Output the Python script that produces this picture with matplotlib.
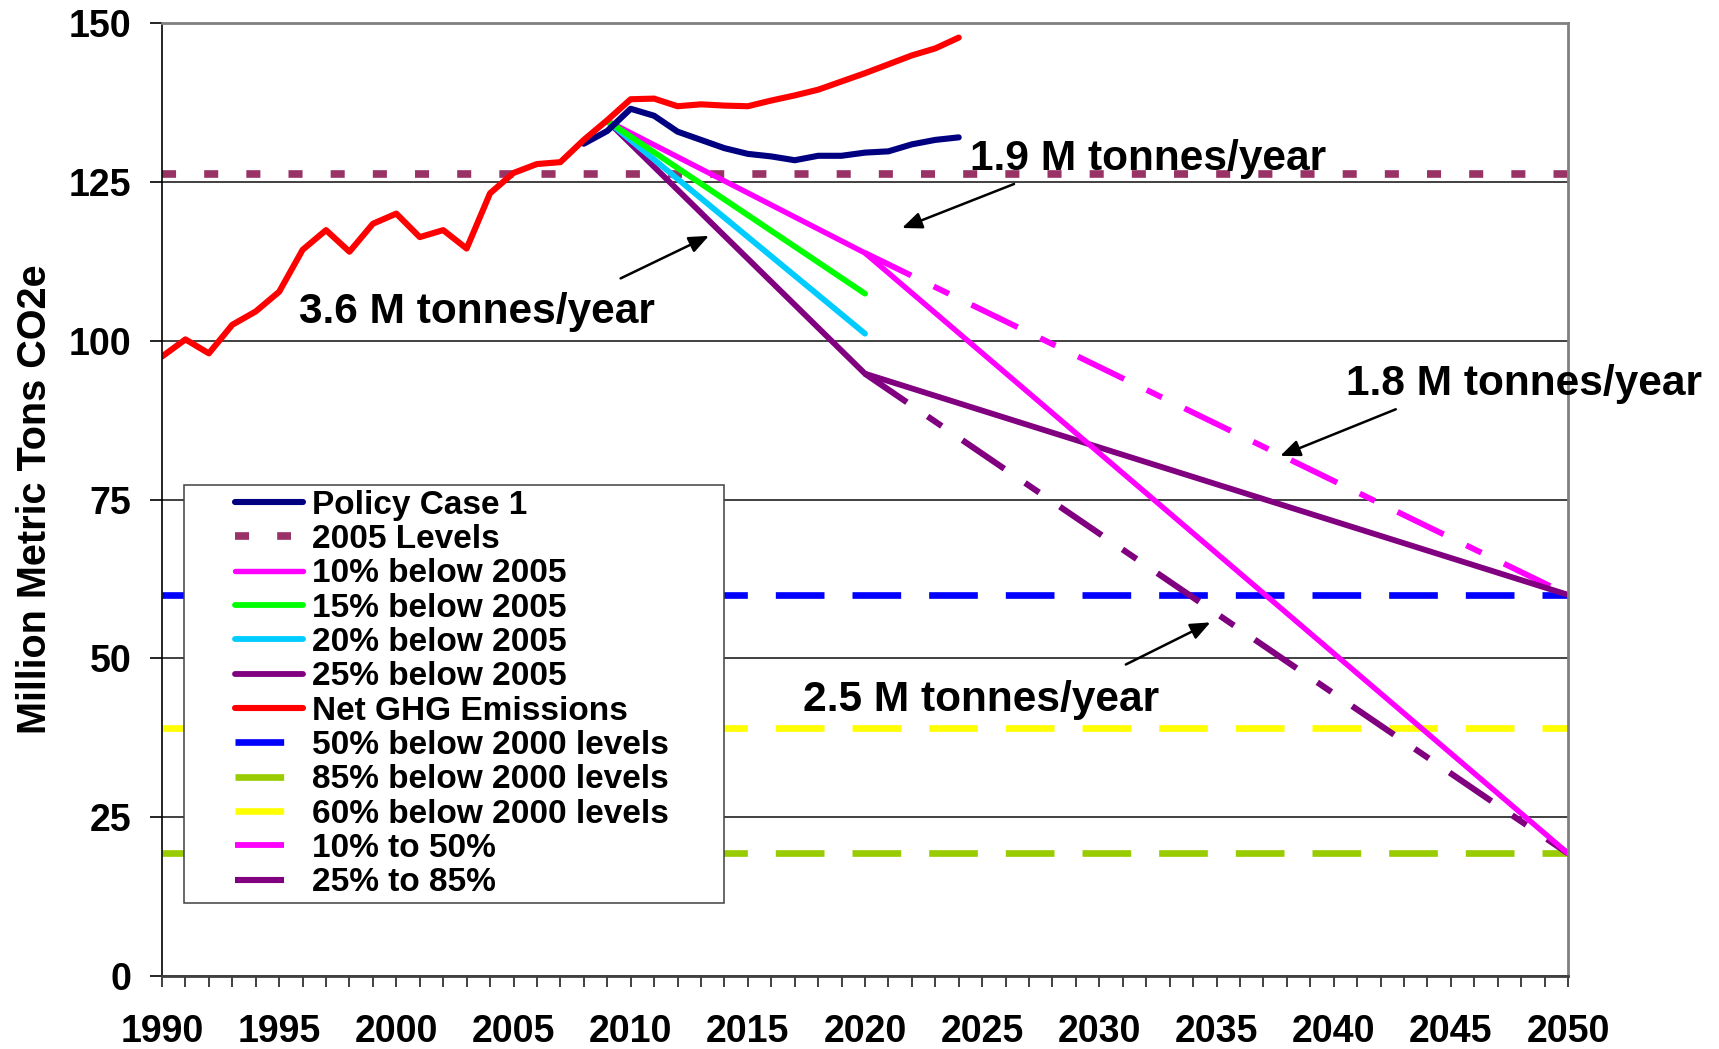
import numpy as np
import matplotlib
matplotlib.use('Agg')
import matplotlib.pyplot as plt
from matplotlib.legend_handler import HandlerLine2D
from matplotlib.ticker import MultipleLocator

plt.rcParams['font.family'] = ['Liberation Sans', 'DejaVu Sans']
plt.rcParams['font.weight'] = 'bold'

# ---------------- data ----------------
hist_years = list(range(1990, 2025))
net_ghg = [97.5, 100.2, 98.0, 102.5, 104.6, 107.7, 114.3, 117.4, 114.0, 118.4,
           120.0, 116.3, 117.4, 114.5, 123.2, 126.4, 127.8, 128.1, 131.6, 134.7,
           138.0, 138.1, 136.9, 137.2, 137.0, 136.9, 137.8, 138.6, 139.5, 140.8,
           142.1, 143.5, 144.9, 146.0, 147.7]

policy_years = list(range(2008, 2025))
policy_case_1 = [131.0, 133.0, 136.5, 135.4, 132.9, 131.6, 130.3, 129.4, 129.0,
                 128.4, 129.1, 129.1, 129.6, 129.8, 130.9, 131.6, 132.0]

target_years = [2009, 2020]
below_15 = [134.6, 107.4]
below_20 = [134.6, 101.1]

path_years = [2009, 2020, 2050]
below_10 = [134.6, 113.8, 19.3]
below_25 = [134.6, 94.8, 60.0]

ext_years = [2020, 2050]
path_10_to_50 = [113.8, 60.0]
path_25_to_85 = [94.8, 19.3]

span_years = [1990, 2050]
level_2005 = 126.3
level_50_below_2000 = 60.0
level_60_below_2000 = 39.1
level_85_below_2000 = 19.3

labels = ["Policy Case 1", "2005 Levels", "10% below 2005", "15% below 2005",
          "20% below 2005", "25% below 2005", "Net GHG Emissions",
          "50% below 2000 levels", "85% below 2000 levels",
          "60% below 2000 levels", "10% to 50%", "25% to 85%"]

annot_texts = ["1.9 M tonnes/year", "3.6 M tonnes/year",
               "1.8 M tonnes/year", "2.5 M tonnes/year"]
annot_text_pos = [(2024.46, 126.86), (1995.85, 102.73), (2040.54, 91.49), (2017.37, 41.71)]
annot_tails = [(2026.36, 124.66), (2009.57, 109.8), (2042.65, 89.2), (2031.13, 49.03)]
annot_heads = [(2021.58, 117.73), (2013.34, 116.5), (2037.72, 81.86), (2034.74, 55.66)]

x_ticks = list(range(1990, 2051, 5))
y_ticks = list(range(0, 151, 25))

# ---------------- figure ----------------
W, H = 1719, 1049
fig = plt.figure(figsize=(W / 100, H / 100), dpi=100)
ax = fig.add_axes([162 / W, 1 - 976 / H, 1406 / W, 953 / H])

dash_long = (7.3, 4.2)
h_50, = ax.plot(span_years, [level_50_below_2000] * 2, color='#0000FF', lw=4.8,
                dashes=dash_long, dash_capstyle='butt')
h_85, = ax.plot(span_years, [level_85_below_2000] * 2, color='#99CC00', lw=4.8,
                dashes=dash_long, dash_capstyle='butt')
h_60, = ax.plot(span_years, [level_60_below_2000] * 2, color='#FFFF00', lw=4.8,
                dashes=dash_long, dash_capstyle='butt')
h_2005, = ax.plot(span_years, [level_2005] * 2, color='#993366', lw=5.5,
                  dashes=(1.84, 3.68), dash_capstyle='butt')

h_25_85, = ax.plot(ext_years, path_25_to_85, color='#800080', lw=4.4,
                   dashes=(8.3, 4.1, 2.8, 4.1), dash_capstyle='butt')
h_10_50, = ax.plot(ext_years, path_10_to_50, color='#FF00FF', lw=4.2,
                   dashes=(8.8, 4.3, 2.9, 4.3), dash_capstyle='butt')

h_25, = ax.plot(path_years, below_25, color='#800080', lw=4.2, solid_capstyle='round')
h_10, = ax.plot(path_years, below_10, color='#FF00FF', lw=3.9, solid_capstyle='round')
h_20, = ax.plot(target_years, below_20, color='#00CCFF', lw=4.2, solid_capstyle='round')
h_15, = ax.plot(target_years, below_15, color='#00FF00', lw=4.2, solid_capstyle='round')
h_pc, = ax.plot(policy_years, policy_case_1, color='#000080', lw=4.4,
                solid_capstyle='round', solid_joinstyle='round')
h_net, = ax.plot(hist_years, net_ghg, color='#FF0000', lw=4.4,
                 solid_capstyle='round', solid_joinstyle='round')

ax.set_xlim(1990, 2050)
ax.set_ylim(0, 150)
ax.set_xticks(x_ticks)
ax.xaxis.set_minor_locator(MultipleLocator(1))
ax.set_yticks(y_ticks)
ax.tick_params(axis='x', which='both', length=8, width=1.2, direction='out',
               color='#202020')
ax.tick_params(axis='x', which='major', pad=19, labelsize=27)
ax.tick_params(axis='y', length=9, width=1.2, direction='out', pad=13, labelsize=27)
for lab in ax.get_xticklabels() + ax.get_yticklabels():
    lab.set_fontweight('bold')

ax.yaxis.grid(True, color='#202020', lw=1.2)
ax.set_axisbelow(True)
ax.spines['left'].set_color('black')
ax.spines['left'].set_linewidth(1.2)
ax.spines['top'].set_color('#808080')
ax.spines['top'].set_linewidth(2)
ax.spines['right'].set_color('#808080')
ax.spines['right'].set_linewidth(2)
ax.spines['bottom'].set_color('#404040')
ax.spines['bottom'].set_linewidth(2)

ax.set_ylabel('Million Metric Tons CO2e', fontsize=28.5, fontweight='bold')
ax.yaxis.set_label_coords(-0.077, 0.5)

for txt, pos, tail, head in zip(annot_texts, annot_text_pos, annot_tails, annot_heads):
    ax.text(pos[0], pos[1], txt, fontsize=30.6, fontweight='bold', ha='left',
            va='baseline', color='black', zorder=6)
    ax.annotate('', xy=head, xytext=tail,
                arrowprops=dict(arrowstyle='-|>,head_length=0.6,head_width=0.25',
                                color='black', lw=1.8, mutation_scale=20,
                                shrinkA=0, shrinkB=0), zorder=6)


class OffsetLineHandler(HandlerLine2D):
    def __init__(self, start, end, **kw):
        super().__init__(**kw)
        self.start = start
        self.end = end

    def get_xdata(self, legend, xdescent, ydescent, width, height, fontsize):
        xd = np.array([-xdescent + width * self.start, -xdescent + width * self.end])
        return xd, xd


long_h = OffsetLineHandler(0.394, 0.981)
short_h = OffsetLineHandler(0.399, 0.819)
dot_h = OffsetLineHandler(0.399, 0.878)

handles = [h_pc, h_2005, h_10, h_15, h_20, h_25, h_net, h_50, h_85, h_60, h_10_50, h_25_85]
hmap = {h_pc: long_h, h_2005: dot_h, h_10: long_h, h_15: long_h, h_20: long_h,
        h_25: long_h, h_net: long_h, h_50: short_h, h_85: short_h, h_60: short_h,
        h_10_50: short_h, h_25_85: short_h}

leg = ax.legend(handles, labels, handler_map=hmap, loc='lower left',
                bbox_to_anchor=(0.01536, 0.0762, 0.3841, 0.44), mode='expand',
                borderaxespad=0, borderpad=0.15, handlelength=3.51,
                handletextpad=0.2, labelspacing=0.10,
                prop={'family': ['Liberation Sans', 'DejaVu Sans'],
                      'weight': 'bold', 'size': 24},
                fancybox=False, framealpha=1, edgecolor='#404040')
leg.get_frame().set_linewidth(1.1)
leg.set_zorder(7)

fig.savefig('out.png', dpi=100)
